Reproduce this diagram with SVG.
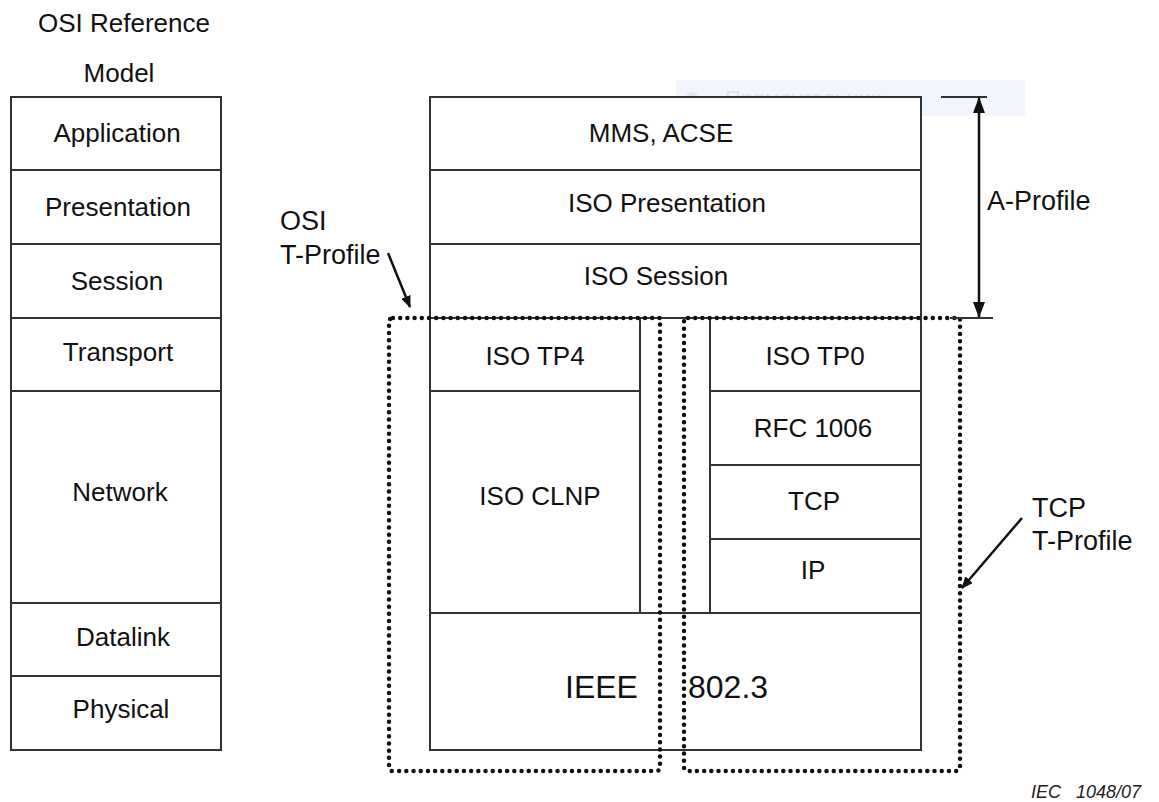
<svg xmlns="http://www.w3.org/2000/svg" width="1159" height="802" viewBox="0 0 1159 802">
  <defs>
    <style>
      .box { fill: #ffffff; stroke: #333333; stroke-width: 2; }
      .sep { stroke: #333333; stroke-width: 2; fill: none; }
      .lbl { font-family: "Liberation Sans", Arial, sans-serif; font-size: 26px; fill: #111111; text-anchor: middle; }
      .big { font-family: "Liberation Sans", Arial, sans-serif; font-size: 32px; fill: #111111; }
      .note { font-family: "Liberation Sans", Arial, sans-serif; font-size: 27px; fill: #111111; }
      .dots { fill: none; stroke: #111111; stroke-width: 4.5; stroke-linecap: round; stroke-linejoin: round; stroke-dasharray: 0 7.2; }
      .conn { stroke: #111111; stroke-width: 2.5; fill: none; }
    </style>
    <marker id="head" viewBox="0 0 12 10" refX="11" refY="5" markerWidth="12" markerHeight="10" markerUnits="userSpaceOnUse" orient="auto">
      <path d="M0,0 L12,5 L0,10 Z" fill="#111111"/>
    </marker>
    <marker id="headL" viewBox="0 0 16 12" refX="15" refY="6" markerWidth="16" markerHeight="12" markerUnits="userSpaceOnUse" orient="auto-start-reverse">
      <path d="M0,0 L16,6 L0,12 Z" fill="#111111"/>
    </marker>
  </defs>

  <rect width="1159" height="802" fill="#ffffff"/>

  <!-- faint shape-name hint left behind by the editor -->
  <g id="hint">
    <rect x="676" y="80" width="349" height="36" fill="#f1f6fd"/>
    <circle cx="692" cy="98" r="6" fill="#e3e6eb"/>
    <text x="725" y="106" font-family="'Liberation Sans', Arial, sans-serif" font-size="22" fill="#dde1e8">Прямоугольник</text>
  </g>

  <!-- OSI reference model column -->
  <g id="osi-model">
    <text class="lbl" x="124" y="32">OSI Reference</text>
    <text class="lbl" x="119" y="82">Model</text>
    <rect class="box" x="11" y="97" width="210" height="653"/>
    <line class="sep" x1="11" y1="170" x2="221" y2="170"/>
    <line class="sep" x1="11" y1="244" x2="221" y2="244"/>
    <line class="sep" x1="11" y1="318" x2="221" y2="318"/>
    <line class="sep" x1="11" y1="391" x2="221" y2="391"/>
    <line class="sep" x1="11" y1="603" x2="221" y2="603"/>
    <line class="sep" x1="11" y1="676" x2="221" y2="676"/>
    <text class="lbl" x="117" y="142">Application</text>
    <text class="lbl" x="118" y="216">Presentation</text>
    <text class="lbl" x="117" y="290">Session</text>
    <text class="lbl" x="118" y="361">Transport</text>
    <text class="lbl" x="120" y="501">Network</text>
    <text class="lbl" x="123" y="646">Datalink</text>
    <text class="lbl" x="121" y="718">Physical</text>
  </g>

  <!-- upper layers of the profile stack -->
  <g id="mms-acse">
    <rect class="box" x="430" y="97" width="491" height="73"/>
    <text class="lbl" x="661" y="142">MMS, ACSE</text>
  </g>
  <g id="iso-presentation">
    <rect class="box" x="430" y="170" width="491" height="74"/>
    <text class="lbl" x="667" y="212">ISO Presentation</text>
  </g>
  <g id="iso-session">
    <rect class="box" x="430" y="244" width="491" height="74"/>
    <text class="lbl" x="656" y="285">ISO Session</text>
  </g>

  <!-- OSI transport side -->
  <g id="iso-tp4">
    <rect class="box" x="430" y="318" width="210" height="73"/>
    <text class="lbl" x="535" y="365">ISO TP4</text>
  </g>
  <g id="iso-clnp">
    <rect class="box" x="430" y="391" width="210" height="222"/>
    <text class="lbl" x="540" y="505">ISO CLNP</text>
  </g>

  <!-- gap between the two transport stacks -->
  <g id="gap">
    <line class="sep" x1="640" y1="318" x2="710" y2="318"/>
  </g>

  <!-- TCP/IP transport side -->
  <g id="iso-tp0">
    <rect class="box" x="710" y="318" width="211" height="73"/>
    <text class="lbl" x="815" y="365">ISO TP0</text>
  </g>
  <g id="rfc1006">
    <rect class="box" x="710" y="391" width="211" height="74"/>
    <text class="lbl" x="813" y="437">RFC 1006</text>
  </g>
  <g id="tcp">
    <rect class="box" x="710" y="465" width="211" height="74"/>
    <text class="lbl" x="814" y="510">TCP</text>
  </g>
  <g id="ip">
    <rect class="box" x="710" y="539" width="211" height="74"/>
    <text class="lbl" x="813" y="579">IP</text>
  </g>

  <!-- shared link layer -->
  <g id="ieee8023">
    <rect class="box" x="430" y="613" width="491" height="137"/>
    <text class="big" x="565" y="698">IEEE</text>
    <text class="big" x="688" y="698">802.3</text>
  </g>

  <!-- profile outlines -->
  <g id="osi-t-profile">
    <path class="dots" d="M393,318 L660,318 L660,767 Q660,771 656,771 L393,771 Q389,771 389,767 L389,322 Q389,318 393,318 Z"/>
    <text class="note" x="280" y="230">OSI</text>
    <text class="note" x="280" y="264">T-Profile</text>
  </g>
  <g id="tcp-t-profile">
    <path class="dots" d="M688,318 L960,318 L960,767 Q960,771 956,771 L688,771 Q684,771 684,767 L684,322 Q684,318 688,318 Z"/>
    <text class="note" x="1032" y="517">TCP</text>
    <text class="note" x="1032" y="550">T-Profile</text>
  </g>
  <g id="a-profile">
    <text class="note" x="987" y="210">A-Profile</text>
  </g>

  <!-- connectors -->
  <g id="connectors">
    <line class="conn" x1="388" y1="253" x2="410" y2="307" marker-end="url(#head)"/>
    <line class="conn" x1="1022" y1="518" x2="962" y2="588" marker-end="url(#head)"/>
    <line class="sep" x1="941" y1="97" x2="987" y2="97"/>
    <line class="sep" x1="950" y1="318" x2="993" y2="318"/>
    <line class="conn" x1="979" y1="98" x2="979" y2="317" marker-start="url(#headL)" marker-end="url(#headL)"/>
  </g>

  <text x="1141" y="798" text-anchor="end" font-family="'Liberation Sans', Arial, sans-serif" font-size="18" font-style="italic" fill="#222222" xml:space="preserve">IEC   1048/07</text>
</svg>
